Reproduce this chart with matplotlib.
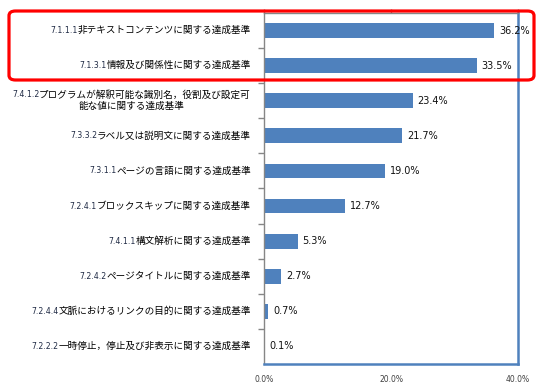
import matplotlib
matplotlib.use("Agg")
import matplotlib.pyplot as plt
from matplotlib.patches import FancyBboxPatch

plt.rcParams['font.family'] = ['Noto Sans CJK JP', 'DejaVu Sans']

prefixes = ["7.1.1.1", "7.1.3.1", "7.4.1.2", "7.3.3.2", "7.3.1.1",
            "7.2.4.1", "7.4.1.1", "7.2.4.2", "7.2.4.4", "7.2.2.2"]
names = ["非テキストコンテンツに関する達成基準",
         "情報及び関係性に関する達成基準",
         "プログラムが解釈可能な識別名，役割及び設定可\n能な値に関する達成基準",
         "ラベル又は説明文に関する達成基準",
         "ページの言語に関する達成基準",
         "ブロックスキップに関する達成基準",
         "構文解析に関する達成基準",
         "ページタイトルに関する達成基準",
         "文脈におけるリンクの目的に関する達成基準",
         "一時停止，停止及び非表示に関する達成基準"]
values = [36.2, 33.5, 23.4, 21.7, 19.0, 12.7, 5.3, 2.7, 0.7, 0.1]
xticks = [0, 20, 40]
xticklabels = ["0.0%", "20.0%", "40.0%"]

BLUE = "#4F81BD"
GRAY = "#868686"
FS = 6.9
PFS = 5.6
OFF = -13

fig = plt.figure(figsize=(5.46, 3.90), dpi=100)
ax = fig.add_axes([264/546, 26/390, 254/546, 351/390])

ypos = list(range(len(values)))
ax.barh(ypos, values, height=0.42, color=BLUE, zorder=2)
ax.set_xlim(0, 40)
ax.set_ylim(len(values) - 0.5, -0.5)

ax.spines['left'].set_color(GRAY)
ax.spines['top'].set_color(GRAY)
ax.spines['right'].set_color(BLUE)
ax.spines['bottom'].set_color(BLUE)
for s in ['left', 'top']:
    ax.spines[s].set_linewidth(1.0)
for s in ['right', 'bottom']:
    ax.spines[s].set_linewidth(1.8)

ax.xaxis.set_ticks_position('top')
ax.set_xticks(xticks)
ax.set_xticklabels([])
ax.tick_params(axis='x', direction='out', length=3, width=1, color=GRAY)
for xv, lab in zip(xticks, xticklabels):
    ax.annotate(lab, xy=(xv, 0), xycoords=('data', 'axes fraction'),
                xytext=(0, -15), textcoords='offset pixels',
                ha='center', va='center', fontsize=5.5, color="#404040",
                family=['DejaVu Sans'])

ax.set_yticks([i + 0.5 for i in range(len(values) - 1)])
ax.set_yticklabels([])
ax.tick_params(axis='y', direction='out', length=4, width=1, color=GRAY)

for y, v in zip(ypos, values):
    ax.annotate(f"{v:.1f}%", xy=(v, y), xytext=(5, 0), textcoords='offset pixels',
                ha='left', va='center', fontsize=7, color="#111111",
                family=['DejaVu Sans'])

fig.canvas.draw()
renderer = fig.canvas.get_renderer()
for y, pre, nm in zip(ypos, prefixes, names):
    lines = nm.split("\n")
    dy = 0 if len(lines) == 1 else 6
    t = ax.annotate(lines[0], xy=(0, y), xycoords=('axes fraction', 'data'),
                    xytext=(OFF, dy), textcoords='offset pixels',
                    ha='right', va='center', fontsize=FS, color='black')
    bb = t.get_window_extent(renderer)
    p = ax.annotate(pre, xy=(0, y), xycoords=('axes fraction', 'data'),
                    xytext=(OFF - bb.width, dy), textcoords='offset pixels',
                    ha='right', va='center', fontsize=PFS, color='#1F2A44',
                    family=['DejaVu Sans'])
    if len(lines) > 1:
        pb = p.get_window_extent(renderer)
        total = bb.width + pb.width
        ax.annotate(lines[1], xy=(0, y), xycoords=('axes fraction', 'data'),
                    xytext=(OFF - total / 2, -6), textcoords='offset pixels',
                    ha='center', va='center', fontsize=FS, color='black')

W, H = 546, 390
x0, y0, x1, y1 = 9, 11, 534, 80
rect = FancyBboxPatch((x0 / W, 1 - y1 / H), (x1 - x0) / W, (y1 - y0) / H,
                      boxstyle="round,pad=0,rounding_size=0.012",
                      transform=fig.transFigure, fill=False,
                      edgecolor="#FF0000", linewidth=2.3, zorder=10)
fig.patches.append(rect)

fig.savefig("out.png", dpi=100)
